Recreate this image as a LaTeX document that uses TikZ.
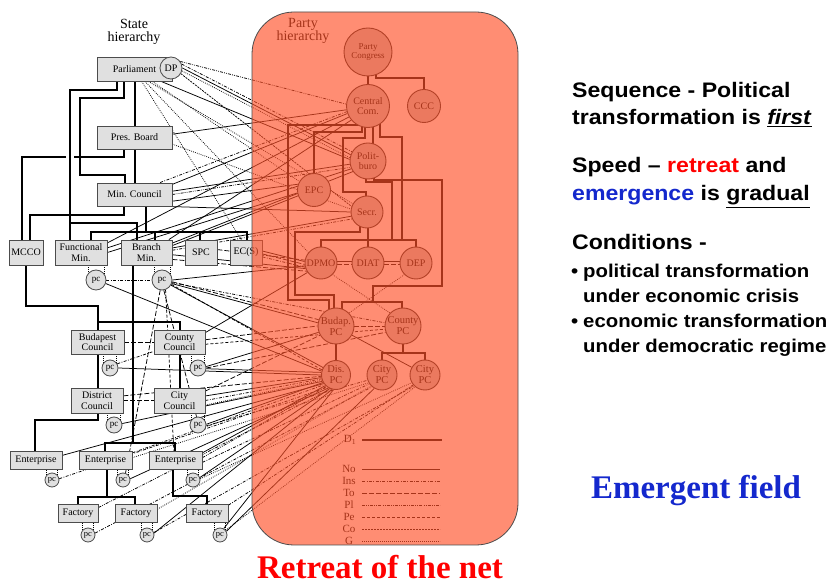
\documentclass[tikz,border=0pt]{standalone}
\usepackage{fontspec}
\setmainfont{Liberation Serif}
\newfontfamily\arialb{Liberation Sans}[FakeStretch=1.1]
\usetikzlibrary{calc}
\pgfdeclarelayer{bottom}
\pgfdeclarelayer{bg}
\pgfdeclarelayer{fg}
\pgfsetlayers{bottom,bg,main,fg}
\definecolor{salmon}{RGB}{255,80,40}
\definecolor{efblue}{RGB}{20,40,205}
\definecolor{rred}{RGB}{255,0,0}
\tikzset{
 sbox/.style={draw=black!70, fill=black!12, line width=0.9pt, inner sep=0pt, align=center, font=\fontsize{10}{10.5}\selectfont},
 pcn/.style={circle, draw=black!70, fill=black!12, line width=0.8pt, inner sep=0pt, font=\fontsize{9}{9}\selectfont},
 pnode/.style={circle, draw=black!85, fill=black!22, line width=0.9pt, inner sep=0pt, align=center, font=\fontsize{10}{10.5}\selectfont},
 tree/.style={line width=1.8pt, black},
 thinl/.style={line width=0.75pt, black},
 cNo/.style={thinl},
 cIns/.style={thinl, dash pattern=on 3pt off 1.5pt on 0.8pt off 1.5pt},
 cTo/.style={thinl, dash pattern=on 5pt off 2pt},
 cPl/.style={thinl, dash pattern=on 3pt off 1.2pt on 0.8pt off 1.2pt on 0.8pt off 1.2pt},
 cPe/.style={thinl, dash pattern=on 3pt off 2pt},
 cCo/.style={thinl, dash pattern=on 2pt off 1pt},
 cG/.style={thinl, dash pattern=on 0.8pt off 1.2pt},
 rt/.style={inner sep=0pt, anchor=base west, font=\arialb\bfseries\fontsize{21}{25}\selectfont},
 rb/.style={inner sep=0pt, anchor=base west, font=\arialb\bfseries\fontsize{18.5}{22}\selectfont},
 leg/.style={inner sep=0pt, font=\fontsize{11}{12}\selectfont},
 ttl/.style={align=center, inner sep=0pt, font=\fontsize{14}{12.5}\selectfont}
}
\begin{document}
\begin{tikzpicture}[x=1pt,y=-1pt]
\useasboundingbox (0,0) rectangle (831,585);
\begin{pgfonlayer}{bottom}
\fill[white] (0,0) rectangle (831,585);
\end{pgfonlayer}

% ---------- titles ----------
\node[ttl] (sttl) at (134,32) {State\\hierarchy};
\node[ttl] (pttl) at (303,31) {Party\\hierarchy};

% ---------- state hierarchy ----------
\node[sbox, minimum width=75pt, minimum height=24pt] (parl) at (134.5,69) {Parliament};
\node[pcn, minimum size=22pt, font=\fontsize{10}{10}\selectfont] (dp) at (171,68) {DP};
\node[sbox, minimum width=75pt, minimum height=23pt] (pres) at (134.5,137.5) {Pres. Board};
\node[sbox, minimum width=75pt, minimum height=23pt] (minc) at (134.5,194.5) {Min. Council};
\node[sbox, minimum width=34pt, minimum height=25pt] (mcco) at (26,252.5) {MCCO};
\node[sbox, minimum width=52pt, minimum height=25pt] (func) at (81,252.5) {Functional\\Min.};
\node[sbox, minimum width=51pt, minimum height=25pt] (branch) at (146.5,252.5) {Branch\\Min.};
\node[sbox, minimum width=32pt, minimum height=25pt] (spc) at (201,252.5) {SPC};
\node[sbox, minimum width=32pt, minimum height=25pt] (ecs) at (246,252.5) {EC(S)};
\node[pcn, minimum size=20pt] (pcF) at (96,280) {pc};
\node[pcn, minimum size=20pt] (pcB) at (162,280) {pc};
\node[sbox, minimum width=53pt, minimum height=24pt] (budc) at (97.5,342) {Budapest\\Council};
\node[sbox, minimum width=51pt, minimum height=24pt] (cntc) at (179.5,342) {County\\Council};
\node[pcn, minimum size=16pt] (pcBu) at (110,368) {pc};
\node[pcn, minimum size=16pt] (pcCo) at (198,368) {pc};
\node[sbox, minimum width=52pt, minimum height=25pt] (dist) at (97,400.5) {District\\Council};
\node[sbox, minimum width=51pt, minimum height=25pt] (cityc) at (179.5,400.5) {City\\Council};
\node[pcn, minimum size=16pt] (pcDi) at (114,425) {pc};
\node[pcn, minimum size=16pt] (pcCi) at (198,425) {pc};
\node[sbox, minimum width=52pt, minimum height=18pt] (ent1) at (36,460) {Enterprise};
\node[sbox, minimum width=53pt, minimum height=18pt] (ent2) at (105.5,460) {Enterprise};
\node[sbox, minimum width=53pt, minimum height=18pt] (ent3) at (175.5,460) {Enterprise};
\node[pcn, minimum size=14pt, font=\fontsize{8.5}{9}\selectfont] (pcE1) at (52,480) {pc};
\node[pcn, minimum size=14pt, font=\fontsize{8.5}{9}\selectfont] (pcE2) at (123,480) {pc};
\node[pcn, minimum size=14pt, font=\fontsize{8.5}{9}\selectfont] (pcE3) at (193,480) {pc};
\node[sbox, minimum width=40pt, minimum height=18pt] (fac1) at (78,513) {Factory};
\node[sbox, minimum width=42pt, minimum height=18pt] (fac2) at (136,513) {Factory};
\node[sbox, minimum width=42pt, minimum height=18pt] (fac3) at (207,513) {Factory};
\node[pcn, minimum size=14pt, font=\fontsize{8.5}{9}\selectfont] (pcF1) at (88,535) {pc};
\node[pcn, minimum size=14pt, font=\fontsize{8.5}{9}\selectfont] (pcF2) at (147,535) {pc};
\node[pcn, minimum size=14pt, font=\fontsize{8.5}{9}\selectfont] (pcF3) at (220,535) {pc};

% ---------- party hierarchy ----------
\node[pnode, minimum size=48pt, font=\fontsize{9}{9.5}\selectfont] (pcong) at (368,52) {Party\\Congress};
\node[pnode, minimum size=43pt] (ccom) at (368,106) {Central\\Com.};
\node[pnode, minimum size=33pt] (ccc) at (424,106) {CCC};
\node[pnode, minimum size=36pt] (polit) at (368,161) {Polit-\\buro};
\node[pnode, minimum size=33pt] (epc) at (314,190) {EPC};
\node[pnode, minimum size=32pt] (secr) at (367,212) {Secr.};
\node[pnode, minimum size=32pt, font=\fontsize{10}{10}\selectfont] (dpmo) at (321,263) {DPMO};
\node[pnode, minimum size=32pt, font=\fontsize{10}{10}\selectfont] (diat) at (368,263) {DIAT};
\node[pnode, minimum size=32pt, font=\fontsize{10}{10}\selectfont] (dep) at (416,263) {DEP};
\node[pnode, minimum size=36pt, font=\fontsize{10.5}{11}\selectfont] (bpc) at (336,326) {Budap.\\PC};
\node[pnode, minimum size=36pt, font=\fontsize{10.5}{11}\selectfont] (copc) at (403,326) {County\\PC};
\node[pnode, minimum size=29pt, font=\fontsize{10.5}{11}\selectfont] (dpc) at (336,375) {Dis.\\PC};
\node[pnode, minimum size=30pt, font=\fontsize{10.5}{11}\selectfont] (cpc1) at (382,375) {City\\PC};
\node[pnode, minimum size=30pt, font=\fontsize{10.5}{11}\selectfont] (cpc2) at (425,375) {City\\PC};

% ---------- legend ----------
\node[leg] (lD) at (350,440) {D\textsubscript{1}};
\node[leg] (lNo) at (349,469) {No};
\node[leg] (lIns) at (349,481) {Ins};
\node[leg] (lTo) at (349,493) {To};
\node[leg] (lPl) at (349,505) {Pl};
\node[leg] (lPe) at (349,517) {Pe};
\node[leg] (lCo) at (349,529) {Co};
\node[leg] (lG) at (349,541) {G};
\draw[tree] (362,440) -- (442,440);
\draw[cNo] (362,469) -- (440,469);
\draw[cIns] (362,481) -- (440,481);
\draw[cTo] (362,493) -- (440,493);
\draw[cPl] (362,505) -- (440,505);
\draw[cPe] (362,517) -- (440,517);
\draw[cCo] (362,529) -- (440,529);
\draw[cG] (362,541) -- (440,541);

\begin{pgfonlayer}{bg}
% ---- state tree ----
\draw[tree] (117,69) -- (117,90) -- (70,90) -- (70,252);
\draw[tree] (124,69) -- (124,98) -- (80,98) -- (80,175) -- (125,175) -- (125,194);
\draw[tree] (135,69) -- (135,194);
\draw[tree] (124,137) -- (124,157) -- (74,157);
\draw[tree] (66,157) -- (22,157) -- (22,252);
\draw[tree] (124,194) -- (124,215) -- (30,215) -- (30,252);
\draw[tree] (70,223) -- (137,223) -- (137,252);
\draw[tree] (146,194) -- (146,232);
\draw[tree] (91,252) -- (91,232) -- (247,232) -- (247,252);
\draw[tree] (155,232) -- (155,252);
\draw[tree] (200,232) -- (200,252);
\draw[tree] (26,252) -- (26,306) -- (98,306) -- (98,342);
\draw[tree] (98,322) -- (180,322) -- (180,342);
\draw[tree] (133,252) -- (133,443);
\draw[tree] (105,460) -- (105,443) -- (175,443) -- (175,460);
\draw[tree] (98,342) -- (98,400);
\draw[tree] (180,342) -- (180,400);
\draw[tree] (98,400) -- (98,420) -- (35,420) -- (35,460);
\draw[tree] (107,460) -- (107,497);
\draw[tree] (78,513) -- (78,497) -- (135,497) -- (135,513);
\draw[tree] (173,460) -- (173,496) -- (207,496) -- (207,513);
% ---- party tree ----
\draw[tree] (368,52) -- (368,106);
\draw[tree] (376,60) -- (376,78) -- (424,78) -- (424,106);
\draw[tree] (358,110) -- (358,125) -- (288,125) -- (288,300) -- (329,300) -- (329,326);
\draw[tree] (362,110) -- (362,132) -- (314,132) -- (314,190);
\draw[tree] (365,110) -- (365,138) -- (343,138) -- (343,192) -- (366,192) -- (366,212);
\draw[tree] (373,106) -- (373,161);
\draw[tree] (380,106) -- (380,137) -- (402,137) -- (402,240);
\draw[tree] (366,161) -- (366,182) -- (392,182) -- (392,240);
\draw[tree] (374,161) -- (374,180) -- (442,180) -- (442,286) -- (373,286) -- (373,302);
\draw[tree] (342,326) -- (342,302) -- (402,302) -- (402,326);
\draw[tree] (368,212) -- (368,263);
\draw[tree] (321,263) -- (321,240) -- (416,240) -- (416,263);
\draw[tree] (360,212) -- (360,232) -- (295,232) -- (295,295) -- (334,295) -- (334,326);
\draw[tree] (403,326) -- (403,353);
\draw[tree] (382,375) -- (382,353) -- (425,353) -- (425,375);
\draw[tree] (336,326) -- (336,375);

% ---- small box-to-pc marks ----
\foreach \p/\b in {pcF/func, pcB/branch, pcBu/budc, pcCo/cntc, pcDi/dist, pcCi/cityc, pcE1/ent1, pcE2/ent2, pcE3/ent3, pcF1/fac1, pcF2/fac2, pcF3/fac3}{
  \draw[cG] (\p.140) -- (\p.140 |- \b.south);
  \draw[cG] (\p.40) -- (\p.40 |- \b.south);
}

% ---- connectors ----
\draw[cIns] (dp.20) -- (polit.150);
\draw[cNo] (dp.0) -- (polit.160);
\draw[cG] (dp.-15) -- (polit.170);
\draw[cCo] (dp.-30) -- (secr.160);
\draw[cPl] (dp.35) -- (ccom.175);
\draw[cNo] (parl.-25) -- (polit.175);
\draw[cG] (parl.-50) -- (dpmo.140);
\draw[cG] (parl.-60) -- (ecs.110);
\draw[cG] (parl.-35) -- (epc.150);
\draw[cG] (parl.-42) -- (secr.150);
\draw[cNo] (pres.5) -- (ccom.190);
\draw[cG] (pres.-10) -- (secr.170);
\draw[cNo] (minc.15) -- (ccom.200);
\draw[cIns] (minc.25) -- (ccom.195);
\draw[cNo] (minc.5) -- (polit.190);
\draw[cPl] (minc.0) -- (polit.200);
\draw[cNo] (minc.-10) -- (epc.160);
\draw[cNo] (minc.-20) -- (secr.180);
\draw[cNo] (func.20) -- (ccom.210);
\draw[cNo] (func.10) -- (polit.205);
\draw[cNo] (func.0) -- (epc.190);
\draw[cNo] (branch.30) -- (ccom.220);
\draw[cNo] (branch.20) -- (polit.215);
\draw[cNo] (branch.15) -- (epc.200);
\draw[cNo] (branch.10) -- (secr.195);
\draw[cIns] (branch.5) -- (secr.205);
\draw[cTo] (spc.10) -- (dpmo.170);
\draw[cNo] (ecs.5) -- (dpmo.175);
\draw[cTo] (ecs.-5) -- (dpmo.185);
\draw[cIns] (ecs.-15) -- (dpmo.195);
\draw[cNo] (dpmo.5) -- (diat.175);
\draw[cTo] (dpmo.-5) -- (diat.185);
\draw[cNo] (diat.5) -- (dep.175);
\draw[cTo] (diat.-5) -- (dep.185);
\draw[cNo] (branch.-5) -- (dpmo.200);
\draw[cTo] (branch.-15) -- (dpmo.210);
\draw[cNo] (pcB.0) -- (dpmo.190);
\draw[cTo] (pcB.-10) -- (bpc.160);
\draw[cNo] (pcB.-20) -- (bpc.170);
\draw[cIns] (pcB.-15) -- (copc.170);
\draw[cNo] (pcB.-30) -- (dpc.150);
\draw[cPe] (pcB.-25) -- (dpc.160);
\draw[cTo] (pcB.-100) -- (pcE2.70);
\draw[cTo] (pcB.-80) -- (pcCi.100);
\draw[cPe] (pcB.-70) -- (ent3.100);
\draw[cIns] (pcF.0) -- (pcB.180);
\draw[cNo] (pcF.-20) -- (dpc.165);
\draw[cTo] (budc.0) -- (cntc.180);
\draw[cNo] (cntc.20) -- (dpmo.215);
\draw[cTo] (cntc.5) -- (bpc.180);
\draw[cPe] (cntc.-5) -- (copc.190);
\draw[cIns] (pcBu.30) -- (cntc.200);
\draw[cNo] (pcBu.0) -- (dpc.180);
\draw[cNo] (pcCo.10) -- (bpc.200);
\draw[cTo] (pcCo.0) -- (copc.200);
\draw[cNo] (pcCo.-5) -- (dpc.170);
\draw[cTo] (dist.0) -- (cityc.180);
\draw[cTo] (dist.10) -- (dpc.185);
\draw[cNo] (cityc.10) -- (dpc.190);
\draw[cIns] (cityc.0) -- (dpc.195);
\draw[cG] (cityc.-10) -- (dpc.200);
\draw[cTo] (cityc.20) -- (bpc.210);
\draw[cNo] (pcDi.10) -- (dpc.205);
\draw[cNo] (pcCi.5) -- (dpc.210);
\draw[cIns] (pcCi.-5) -- (cpc1.200);
\draw[cNo] (ent1.10) -- (dpc.215);
\draw[cIns] (ent2.15) -- (dpc.220);
\draw[cG] (ent2.5) -- (cpc1.210);
\draw[cNo] (ent3.15) -- (dpc.225);
\draw[cPl] (ent3.5) -- (dpc.230);
\draw[cIns] (ent3.-5) -- (cpc1.215);
\draw[cIns] (pcE1.10) -- (dpc.235);
\draw[cNo] (pcE2.10) -- (dpc.240);
\draw[cG] (pcE3.10) -- (cpc2.210);
\draw[cNo] (pcE3.20) -- (dpc.245);
\draw[cPl] (fac1.15) -- (dpc.250);
\draw[cG] (fac2.10) -- (cpc1.225);
\draw[cIns] (fac3.20) -- (cpc2.220);
\draw[cIns] (pcF1.15) -- (cpc1.230);
\draw[cNo] (pcF2.15) -- (dpc.255);
\draw[cNo] (pcF3.30) -- (cpc1.240);
\draw[cG] (pcF3.40) -- (cpc2.230);
\draw[cIns] (pcF2.20) -- (cpc2.225);
\draw[cNo] (pcF3.60) -- (dpc.260);
\draw[cG] (dep.225) -- (bpc.45);
\draw[cG] (dpmo.-45) -- (copc.135);
\draw[cTo] (bpc.0) -- (copc.180);
\draw[cNo] (bpc.-30) -- (cpc2.150);
\end{pgfonlayer}

% ---------- overlay ----------
\begin{pgfonlayer}{fg}
\fill[salmon, opacity=0.65, rounded corners=42pt] (252,12) rectangle (518,545);
\draw[black!70, line width=0.8pt, rounded corners=42pt] (252,12) rectangle (518,545);
\end{pgfonlayer}

% ---------- right text ----------
\node[rt] (s1) at (572,98) {Sequence - Political};
\node[rt] (s2) at (572,125) {transformation is \underline{\textit{first}}};
\node[rt] (s3) at (572,173) {Speed – \textcolor{rred}{retreat} and};
\node[rt] (s4) at (572,201) {\textcolor{efblue}{emergence} is \underline{gradual}};
\node[rt] (s5) at (572,250) {Conditions -};
\node[rb] (b1d) at (571,278) {\textbullet};
\node[rb] (b1) at (583,278) {political transformation};
\node[rb] (b1b) at (583,303) {under economic crisis};
\node[rb] (b2d) at (571,328) {\textbullet};
\node[rb] (b2) at (583,328) {economic transformation};
\node[rb] (b2b) at (583,353) {under democratic regime};
\node[anchor=base, inner sep=0pt, text=efblue, font=\bfseries\fontsize{33}{36}\selectfont] (ef) at (696,499) {Emergent field};
\node[anchor=base, inner sep=0pt, text=rred, font=\bfseries\fontsize{33}{35}\selectfont] (rn) at (380,579) {Retreat of the net};
\end{tikzpicture}
\end{document}
